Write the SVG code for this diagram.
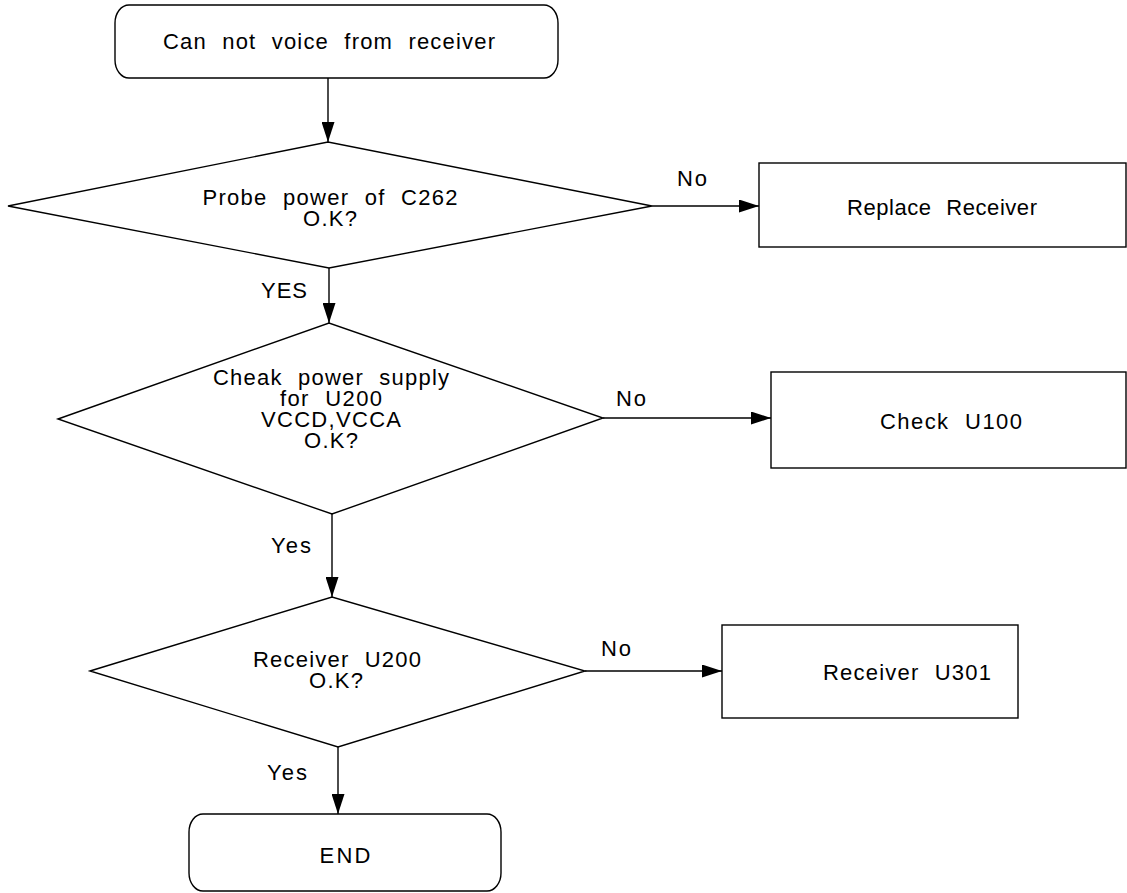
<svg xmlns="http://www.w3.org/2000/svg" width="1127" height="893" viewBox="0 0 1127 893">
<defs>
<marker id="arr" markerUnits="userSpaceOnUse" markerWidth="20" markerHeight="13" refX="20" refY="6.5" orient="auto">
<path d="M0,0 L20,6.5 L0,13 z" fill="#000"/>
</marker>
<style>
.s{fill:#fff;stroke:#000;stroke-width:1.4}
.c{fill:none;stroke:#000;stroke-width:1.4;marker-end:url(#arr)}
text{font-family:"Liberation Sans",Arial,sans-serif;font-size:22px;fill:#000;word-spacing:8px;text-anchor:middle}
</style>
</defs>
<rect width="1127" height="893" fill="#fff"/>
<g id="connectors">
<line class="c" x1="328" y1="78" x2="328" y2="142"/>
<line class="c" x1="329" y1="268" x2="329" y2="323"/>
<line class="c" x1="332" y1="514" x2="332" y2="597"/>
<line class="c" x1="338" y1="747" x2="338" y2="814"/>
<line class="c" x1="652" y1="206" x2="759" y2="206"/>
<line class="c" x1="603" y1="418" x2="771" y2="418"/>
<line class="c" x1="585" y1="671" x2="722" y2="671"/>
<text x="284" y="297.5" textLength="46" lengthAdjust="spacing">YES</text>
<text x="692" y="186" textLength="30" lengthAdjust="spacing">No</text>
<text x="631" y="406" textLength="30" lengthAdjust="spacing">No</text>
<text x="291" y="552.5" textLength="40" lengthAdjust="spacing">Yes</text>
<text x="616" y="655.5" textLength="30" lengthAdjust="spacing">No</text>
<text x="287" y="780" textLength="40" lengthAdjust="spacing">Yes</text>
</g>
<g id="start">
<rect class="s" x="115" y="5" width="443" height="73" rx="14" ry="18"/>
<text x="329" y="48.5" textLength="332" lengthAdjust="spacing">Can not voice from receiver</text>
</g>
<g id="d1">
<polygon class="s" points="8,206 328,142 652,206 329,268"/>
<text x="330" y="205" textLength="255" lengthAdjust="spacing">Probe power of C262</text>
<text x="330" y="226" textLength="54" lengthAdjust="spacing">O.K?</text>
</g>
<g id="replace">
<rect class="s" x="759" y="163" width="367" height="84"/>
<text x="942" y="214.5" textLength="190" lengthAdjust="spacing">Replace Receiver</text>
</g>
<g id="d2">
<polygon class="s" points="58,419 329,323 603,418 332,514"/>
<text x="331" y="385" textLength="236" lengthAdjust="spacing">Cheak power supply</text>
<text x="331" y="406" textLength="102" lengthAdjust="spacing">for U200</text>
<text x="331" y="427" textLength="140" lengthAdjust="spacing">VCCD,VCCA</text>
<text x="331" y="448" textLength="54" lengthAdjust="spacing">O.K?</text>
</g>
<g id="checku100">
<rect class="s" x="771" y="372" width="355" height="96"/>
<text x="951" y="428.5" textLength="142" lengthAdjust="spacing">Check U100</text>
</g>
<g id="d3">
<polygon class="s" points="90,671 332,597 585,671 338,747"/>
<text x="337" y="667" textLength="168" lengthAdjust="spacing">Receiver U200</text>
<text x="336" y="688" textLength="54" lengthAdjust="spacing">O.K?</text>
</g>
<g id="u301">
<rect class="s" x="722" y="625" width="296" height="93"/>
<text x="907" y="679.5" textLength="168" lengthAdjust="spacing">Receiver U301</text>
</g>
<g id="end">
<rect class="s" x="189" y="814" width="312" height="77" rx="14" ry="18"/>
<text x="345" y="863" textLength="51" lengthAdjust="spacing">END</text>
</g>
</svg>
